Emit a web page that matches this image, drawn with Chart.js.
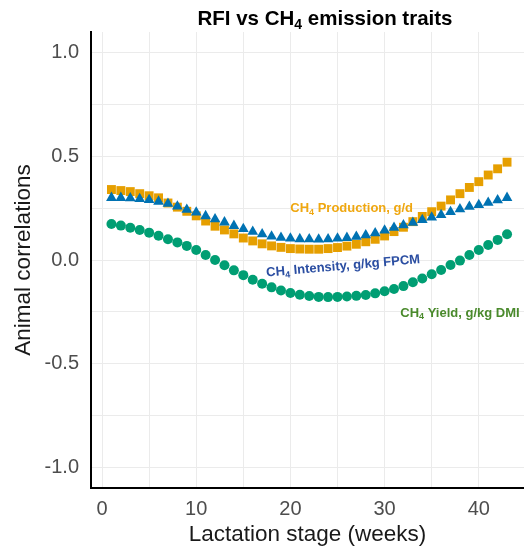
<!DOCTYPE html>
<html>
<head>
<meta charset="utf-8">
<script src="https://cdn.jsdelivr.net/npm/chart.js@4"></script>
<style>
  html, body { margin: 0; padding: 0; background: #fff; }
  #wrap { width: 524px; height: 550px; }
</style>
</head>
<body>
<div id="wrap"><canvas id="rfiChart" width="524" height="550"></canvas></div>
<script>
// lactation weeks 1..43
const weeks = [1,2,3,4,5,6,7,8,9,10,11,12,13,14,15,16,17,18,19,20,21,22,23,24,25,26,27,28,29,30,31,32,33,34,35,36,37,38,39,40,41,42,43];

const production = [0.34,0.335,0.33,0.32,0.31,0.30,0.275,0.255,0.235,0.213,0.188,0.163,0.145,0.126,0.106,0.092,0.078,0.068,0.061,0.055,0.053,0.052,0.052,0.055,0.060,0.067,0.076,0.088,0.100,0.116,0.137,0.158,0.185,0.21,0.233,0.26,0.29,0.32,0.35,0.378,0.41,0.44,0.472];
const intensity = [0.30,0.30,0.298,0.295,0.29,0.282,0.272,0.258,0.243,0.23,0.212,0.197,0.182,0.165,0.15,0.137,0.125,0.114,0.108,0.104,0.101,0.10,0.099,0.10,0.104,0.107,0.113,0.12,0.129,0.143,0.156,0.168,0.18,0.193,0.205,0.217,0.232,0.245,0.257,0.266,0.277,0.289,0.30];
const yieldDmi = [0.174,0.166,0.156,0.145,0.132,0.117,0.10,0.085,0.068,0.048,0.024,0.0,-0.025,-0.05,-0.073,-0.095,-0.115,-0.132,-0.147,-0.159,-0.168,-0.174,-0.178,-0.179,-0.178,-0.176,-0.173,-0.169,-0.161,-0.151,-0.14,-0.126,-0.107,-0.089,-0.069,-0.048,-0.024,-0.003,0.024,0.048,0.072,0.097,0.124];

const xTicks = [0,5,10,15,20,25,30,35,40];
const xLabels = [0,10,20,30,40];
const yTicks = [-1,-0.75,-0.5,-0.25,0,0.25,0.5,0.75,1];
const yLabels = [-1,-0.5,0,0.5,1];

// text parts: [before subscript, subscript, after]
const labels = [
  { parts: ['CH', '4', ' Production, g/d'], x: 26.5, y: 0.25, color: '#EFA710', rot: 0 },
  { parts: ['CH', '4', ' Intensity, g/kg FPCM'], x: 25.6, y: -0.03, color: '#2B4EA2', rot: -5 },
  { parts: ['CH', '4', ' Yield, g/kg DMI'], x: 38.0, y: -0.256, color: '#4A8A2C', rot: 0 }
];

const FONT = '"Liberation Sans", Arial, sans-serif';

// draws "main + sub + main" centred on (0,0)
function subText(c, parts, size) {
  const big = 'bold ' + size + 'px ' + FONT;
  const small = 'bold ' + Math.round(size * 0.7) + 'px ' + FONT;
  c.font = big; const w0 = c.measureText(parts[0]).width;
  c.font = small; const w1 = c.measureText(parts[1]).width;
  c.font = big; const w2 = c.measureText(parts[2]).width;
  let x = -(w0 + w1 + w2) / 2;
  c.textAlign = 'left';
  c.textBaseline = 'middle';
  c.font = big; c.fillText(parts[0], x, 0); x += w0;
  c.font = small; c.fillText(parts[1], x, size * 0.3); x += w1;
  c.font = big; c.fillText(parts[2], x, 0);
}

const annot = {
  id: 'annot',
  afterDatasetsDraw(chart) {
    const c = chart.ctx;
    const xs = chart.scales.x, ys = chart.scales.y;
    labels.forEach(l => {
      c.save();
      c.translate(xs.getPixelForValue(l.x), ys.getPixelForValue(l.y));
      c.rotate(l.rot * Math.PI / 180);
      c.fillStyle = l.color;
      subText(c, l.parts, 13);
      c.restore();
    });
    c.save();
    c.fillStyle = '#000';
    c.translate(325, 19);
    subText(c, ['RFI vs CH', '4', ' emission traits'], 20.5);
    c.restore();
  }
};

const fixedTicks = list => axis => { axis.ticks = list.map(v => ({ value: v })); };
const noPad = s => { s.paddingLeft = 0; s.paddingRight = 0; s.paddingTop = 0; s.paddingBottom = 0; };

new Chart(document.getElementById('rfiChart').getContext('2d'), {
  type: 'scatter',
  data: {
    datasets: [
      {
        label: 'CH4 Intensity',
        data: weeks.map((w, i) => ({ x: w, y: intensity[i] })),
        pointStyle: 'triangle', pointRadius: 6.2,
        backgroundColor: '#0072B2', borderWidth: 0
      },
      {
        label: 'CH4 Production',
        data: weeks.map((w, i) => ({ x: w, y: production[i] })),
        pointStyle: 'rect', pointRadius: 6.3,
        backgroundColor: '#E69F00', borderWidth: 0
      },
      {
        label: 'CH4 Yield',
        data: weeks.map((w, i) => ({ x: w, y: yieldDmi[i] })),
        pointStyle: 'circle', pointRadius: 5,
        backgroundColor: '#009E73', borderWidth: 0
      }
    ]
  },
  options: {
    responsive: false,
    animation: false,
    layout: { autoPadding: false, padding: { top: 32, right: 0, left: 0, bottom: 0 } },
    plugins: { legend: { display: false }, tooltip: { enabled: false } },
    scales: {
      x: {
        type: 'linear', min: -1.17, max: 44.8,
        afterBuildTicks: fixedTicks(xTicks),
        afterFit: s => { s.height = 62; noPad(s); },
        grid: { color: '#EBEBEB', lineWidth: 1, drawTicks: false },
        border: { color: '#000', width: 2 },
        ticks: {
          padding: 9, color: '#4D4D4D', maxRotation: 0, autoSkip: false,
          font: { family: FONT, size: 20 },
          callback: v => xLabels.includes(v) ? String(v) : ''
        },
        title: {
          display: true, text: 'Lactation stage (weeks)', color: '#1A1A1A',
          font: { family: FONT, size: 22.5 },
          padding: { top: 0, bottom: 2 }
        }
      },
      y: {
        type: 'linear', min: -1.1, max: 1.1,
        afterBuildTicks: fixedTicks(yTicks),
        afterFit: s => { s.width = 91; noPad(s); },
        grid: { color: '#EBEBEB', lineWidth: 1, drawTicks: false },
        border: { color: '#000', width: 2 },
        ticks: {
          padding: 12, color: '#4D4D4D', autoSkip: false,
          font: { family: FONT, size: 20 },
          callback: v => yLabels.includes(v) ? v.toFixed(1) : ''
        },
        title: {
          display: true, text: 'Animal correlations', color: '#1A1A1A',
          font: { family: FONT, size: 22.5 },
          padding: { top: 10, bottom: 0 }
        }
      }
    }
  },
  plugins: [annot]
});
</script>
</body>
</html>
